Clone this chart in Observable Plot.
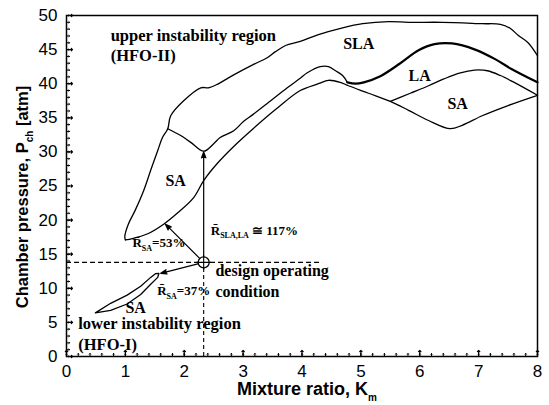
<!DOCTYPE html>
<html>
<head>
<meta charset="utf-8">
<script src="https://cdn.jsdelivr.net/npm/d3@7"></script>
<script src="https://cdn.jsdelivr.net/npm/@observablehq/plot@0.6"></script>
<style>
  html, body { margin: 0; padding: 0; background: white; }
</style>
</head>
<body>
<div id="chart"></div>
<script>
// ---- data ----
const xTicks = [0, 1, 2, 3, 4, 5, 6, 7, 8];
const yTicks = [0, 5, 10, 15, 20, 25, 30, 35, 40, 45, 50];

// HFO-II outer boundary (left side of SA region, then top of SLA region)
const hfo2Outer = [[1.0,17.1],[0.99,17.6],[1.05,19.4],[1.17,21.5],[1.31,24.3],[1.43,27.3],[1.55,30.2],[1.63,32.1],[1.72,33.4],
  [1.77,35.3],[1.99,37.5],[2.28,39.4],[2.41,39.4],[2.56,39.9],[2.84,41.3],[3.17,42.8],[3.41,43.8],[3.55,44.7],[3.72,45.6],
  [3.97,46.2],[4.28,47.2],[4.69,48.2],[5.03,48.8],[5.47,49.1],[5.81,49.0],[6.38,49.0],[7.06,48.8],[7.37,48.7],[7.54,48.1],
  [7.67,47.1],[7.84,46.0],[8.0,44.1]];
// lower boundary of SA region, continuing to bottom of right SA region
const saLower = [[1.0,17.1],[1.12,17.3],[1.38,18.0],[1.65,19.4],[1.88,21.0],[2.16,23.3],[2.33,25.8],[2.56,28.3],[2.84,30.8],
  [3.17,33.4],[3.55,36.2],[3.97,39.0],[4.28,40.0],[4.45,40.5],[4.65,40.2],[4.79,39.7],[5.13,38.6],[5.50,37.4],[5.81,36.1],
  [6.15,34.6],[6.52,33.4],[6.72,33.9],[7.06,35.3],[7.50,36.8],[8.0,38.3]];
// SA / SLA boundary
const saUpper = [[1.72,33.4],[1.94,32.4],[2.11,31.4],[2.33,30.1],[2.50,31.2],[2.61,32.1],[2.84,33.1],[3.01,34.5],[3.17,35.5],
  [3.41,37.1],[3.75,39.4],[3.97,40.8],[4.09,41.6],[4.31,42.5],[4.45,42.5],[4.57,41.9],[4.69,41.2],[4.77,40.2]];
// SLA / LA boundary (heavy)
const laUpper = [[4.77,40.2],[4.91,40.0],[5.05,40.2],[5.33,41.1],[5.67,43.0],[5.98,44.9],[6.25,45.8],[6.55,45.9],[6.94,45.0],
  [7.28,43.6],[7.55,42.2],[8.0,40.2]];
// LA / SA boundary
const laSa = [[5.50,37.4],[5.84,38.6],[6.15,39.7],[6.41,40.7],[6.69,41.6],[6.93,42.0],[7.15,41.9],[7.37,41.2],[7.58,40.3],[8.0,38.3]];
// HFO-I lower SA loop
const hfo1Loop = [[0.49,6.4],[0.75,7.8],[1.03,9.0],[1.26,10.3],[1.43,11.6],[1.51,12.15],[1.57,12.2],[1.55,11.6],[1.43,10.6],
  [1.26,9.1],[1.03,7.7],[0.75,6.75],[0.49,6.4]];

const designPoint = [2.33, 13.8];
const dashEndX = 4.35;
const arrowTips = [[2.33, 30.0], [1.68, 19.4], [1.6, 12.2]];

const regionLabels = ["upper instability region", "(HFO-II)", "SLA", "LA", "SA", "SA", "design operating", "condition",
  "SA", "lower instability region", "(HFO-I)"];
const regionLabelX = [0.75, 0.75, 4.70, 5.81, 6.47, 1.68, 2.53, 2.53, 1.0, 0.2, 0.2];
const regionLabelY = [47.1, 44.1, 45.9, 41.2, 37.1, 25.8, 12.5, 9.5, 7.2, 4.8, 1.7];
const regionLabelSize = [16.5, 16.5, 16, 16, 16, 16, 16, 16, 16, 16.5, 16.5];

const ratioLabels = ["R\u0304_{SA}=53%", "R\u0304_{SLA,LA} \u2245 117%", "R\u0304_{SA}=37%"];
const ratioLabelX = [1.12, 2.45, 1.54];
const ratioLabelY = [16.6, 18.5, 9.7];

// ---- build ----
const P = (arr) => arr.map(([x, y]) => ({x, y}));
const serif = "Liberation Serif, Times New Roman, serif";
const lineOpts = {x: "x", y: "y", stroke: "black", strokeWidth: 1.3, curve: "catmull-rom"};

const regionData = regionLabels.map((t, i) => ({t, x: regionLabelX[i], y: regionLabelY[i], s: regionLabelSize[i]}));
const ratioData = ratioLabels.map((t, i) => ({t, x: ratioLabelX[i], y: ratioLabelY[i]}));
const arrowData = arrowTips.map(([x2, y2]) => ({x1: designPoint[0], y1: designPoint[1], x2, y2}));

const chart = Plot.plot({
  width: 549,
  height: 405,
  marginLeft: 66,
  marginRight: 12,
  marginTop: 15,
  marginBottom: 49,
  style: {fontFamily: "Liberation Sans, Arial, sans-serif", fontSize: "17px", background: "white", color: "black"},
  x: {domain: [0, 8]},
  y: {domain: [0, 50]},
  marks: [
    // axes: labels only, ticks drawn inward below
    Plot.axisX({ticks: xTicks, tickSize: 0, tickPadding: 8, tickFormat: d3.format("d"), label: null, fontSize: 17}),
    Plot.axisY({ticks: yTicks, tickSize: 0, tickPadding: 9, tickFormat: d3.format("d"), label: null, fontSize: 17}),
    Plot.vector(d3.range(0, 8.001, 0.2), {x: d => d, frameAnchor: "bottom", rotate: 0, length: 3, anchor: "start", stroke: "black", strokeWidth: 1}),
    Plot.vector(xTicks, {x: d => d, frameAnchor: "bottom", rotate: 0, length: 6, anchor: "start", stroke: "black", strokeWidth: 1.2}),
    Plot.vector(d3.range(0, 50.001, 1), {y: d => d, frameAnchor: "left", rotate: 90, length: 3, anchor: "start", stroke: "black", strokeWidth: 1}),
    Plot.vector(yTicks, {y: d => d, frameAnchor: "left", rotate: 90, length: 6, anchor: "start", stroke: "black", strokeWidth: 1.2}),
    Plot.frame({stroke: "black", strokeWidth: 1.5}),
    // axis titles
    Plot.text(["Mixture ratio, K_{m}"], {frameAnchor: "bottom", textAnchor: "middle", lineAnchor: "middle", dy: 33, dx: 5, fontWeight: "bold", fontSize: 18}),
    Plot.text(["Chamber pressure, P_{ch} [atm]"], {frameAnchor: "left", textAnchor: "middle", lineAnchor: "middle", rotate: -90, dx: -44, dy: 11, fontWeight: "bold", fontSize: 16.5}),
    // dashed design lines
    Plot.ruleY([designPoint], {y: d => d[1], x1: 0, x2: dashEndX, stroke: "black", strokeWidth: 1.1, strokeDasharray: "5,3"}),
    Plot.ruleX([designPoint], {x: d => d[0], y1: 0, y2: d => d[1], stroke: "black", strokeWidth: 1.1, strokeDasharray: "4,3"}),
    // curves
    Plot.line(P(hfo2Outer), lineOpts),
    Plot.line(P(saLower), lineOpts),
    Plot.line(P(saUpper), lineOpts),
    Plot.line(P(laUpper), {...lineOpts, strokeWidth: 2.2}),
    Plot.line(P(laSa), lineOpts),
    Plot.line(P(hfo1Loop), {...lineOpts, curve: "linear", strokeLinejoin: "round"}),
    // arrows
    Plot.arrow(arrowData, {x1: "x1", y1: "y1", x2: "x2", y2: "y2", stroke: "black", strokeWidth: 1.2, headLength: 8, headAngle: 40, insetStart: 5}),
    // design point
    Plot.dot([designPoint], {x: d => d[0], y: d => d[1], r: 5.5, stroke: "black", fill: "white", strokeWidth: 1.3}),
    Plot.dot([designPoint], {x: d => d[0], y: d => d[1], r: 4.6, symbol: "plus", stroke: "black", strokeWidth: 1.1}),
    // labels
    Plot.text(regionData, {x: "x", y: "y", text: "t", textAnchor: "start", fontFamily: serif, fontWeight: "bold", fontSize: "s", fill: "black"}),
    Plot.text(ratioData, {x: "x", y: "y", text: "t", textAnchor: "start", fontFamily: serif, fontWeight: "bold", fontSize: 13, fill: "black"})
  ]
});

document.getElementById("chart").appendChild(chart);

// filled arrow heads
chart.querySelectorAll('g[aria-label="arrow"] path').forEach(p => p.setAttribute("fill", "black"));

// subscripts: turn "_{...}" into lowered small tspans
const NS = "http://www.w3.org/2000/svg";
chart.querySelectorAll("text").forEach(t => {
  const s = t.textContent;
  if (!s.includes("_{")) return;
  const fs = parseFloat(getComputedStyle(t).fontSize) || 14;
  const parts = s.split(/(_\{[^}]*\})/).filter(p => p.length);
  t.textContent = "";
  const shift = Math.round(fs * 0.33);
  let lowered = false;
  parts.forEach(p => {
    const ts = document.createElementNS(NS, "tspan");
    if (p.startsWith("_{")) {
      ts.textContent = p.slice(2, -1);
      ts.setAttribute("font-size", Math.round(fs * 0.58));
      ts.setAttribute("dy", shift);
      lowered = true;
    } else {
      ts.textContent = p;
      if (lowered) { ts.setAttribute("dy", -shift); lowered = false; }
    }
    t.appendChild(ts);
  });
});
</script>
</body>
</html>
